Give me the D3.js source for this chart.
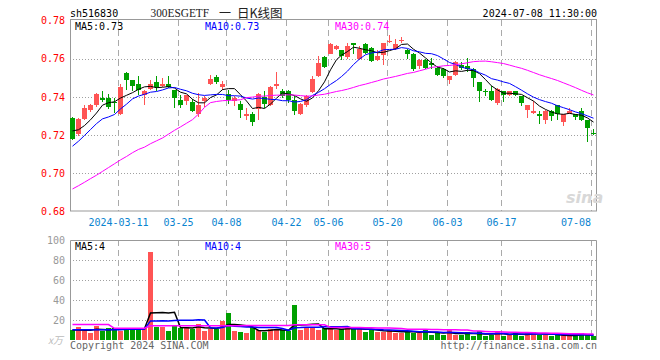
<!DOCTYPE html>
<html><head><meta charset="utf-8">
<script src="https://cdn.jsdelivr.net/npm/d3@7/dist/d3.min.js"></script>
<style>body{margin:0;background:#fff}svg{display:block}</style>
</head><body>
<svg id="c" width="660" height="360"></svg>
<script>
const dates = ["2024-02-28","2024-02-29","2024-03-01","2024-03-04","2024-03-05","2024-03-06","2024-03-07","2024-03-08",
"2024-03-11","2024-03-12","2024-03-13","2024-03-14","2024-03-15","2024-03-18","2024-03-19","2024-03-20","2024-03-21","2024-03-22",
"2024-03-25","2024-03-26","2024-03-27","2024-03-28","2024-03-29","2024-04-01","2024-04-02","2024-04-03",
"2024-04-08","2024-04-09","2024-04-10","2024-04-11","2024-04-12","2024-04-15","2024-04-16","2024-04-17","2024-04-18","2024-04-19",
"2024-04-22","2024-04-23","2024-04-24","2024-04-25","2024-04-26","2024-04-29","2024-04-30",
"2024-05-06","2024-05-07","2024-05-08","2024-05-09","2024-05-10","2024-05-13","2024-05-14","2024-05-15","2024-05-16","2024-05-17",
"2024-05-20","2024-05-21","2024-05-22","2024-05-23","2024-05-24","2024-05-27","2024-05-28","2024-05-29","2024-05-30","2024-05-31",
"2024-06-03","2024-06-04","2024-06-05","2024-06-06","2024-06-07","2024-06-11","2024-06-12","2024-06-13","2024-06-14",
"2024-06-17","2024-06-18","2024-06-19","2024-06-20","2024-06-21","2024-06-24","2024-06-25","2024-06-26","2024-06-27","2024-06-28",
"2024-07-01","2024-07-02","2024-07-03","2024-07-04","2024-07-05","2024-07-08"];

const open  = [0.7287,0.7204,0.7285,0.7334,0.7355,0.7395,0.7395,0.7372,0.7311,0.7526,0.7486,0.7465,0.7412,0.7442,0.7477,0.7456,0.7465,0.7435,0.7386,0.7377,0.7372,0.7313,0.7377,0.7465,0.7505,0.7452,0.7417,0.7381,0.7365,0.7299,0.7313,0.7337,0.7400,0.7355,0.7456,0.7430,0.7430,0.7386,0.7313,0.7355,0.7424,0.7508,0.7609,0.7627,0.7651,0.7644,0.7609,0.7683,0.7599,0.7679,0.7657,0.7595,0.7620,0.7686,0.7651,0.7695,0.7648,0.7627,0.7564,0.7595,0.7575,0.7552,0.7547,0.7487,0.7517,0.7569,0.7564,0.7547,0.7477,0.7430,0.7430,0.7369,0.7433,0.7412,0.7433,0.7407,0.7334,0.7316,0.7313,0.7278,0.7325,0.7355,0.7267,0.7313,0.7313,0.7325,0.7278,0.7212];
const high  = [0.7295,0.7290,0.7360,0.7365,0.7420,0.7433,0.7417,0.7395,0.7465,0.7529,0.7491,0.7508,0.7438,0.7491,0.7508,0.7500,0.7510,0.7435,0.7412,0.7412,0.7390,0.7421,0.7403,0.7517,0.7517,0.7482,0.7438,0.7403,0.7377,0.7342,0.7320,0.7421,0.7430,0.7456,0.7529,0.7442,0.7435,0.7403,0.7369,0.7410,0.7508,0.7616,0.7616,0.7683,0.7674,0.7648,0.7680,0.7683,0.7669,0.7683,0.7662,0.7648,0.7683,0.7726,0.7704,0.7714,0.7651,0.7630,0.7599,0.7599,0.7604,0.7561,0.7552,0.7512,0.7587,0.7582,0.7604,0.7552,0.7477,0.7442,0.7456,0.7447,0.7433,0.7433,0.7433,0.7407,0.7355,0.7377,0.7325,0.7334,0.7334,0.7360,0.7313,0.7342,0.7313,0.7342,0.7278,0.7232];
const low   = [0.7173,0.7197,0.7278,0.7320,0.7348,0.7372,0.7337,0.7316,0.7306,0.7438,0.7430,0.7410,0.7360,0.7438,0.7430,0.7452,0.7447,0.7342,0.7342,0.7360,0.7320,0.7295,0.7348,0.7460,0.7465,0.7438,0.7365,0.7351,0.7290,0.7278,0.7250,0.7281,0.7342,0.7351,0.7442,0.7395,0.7369,0.7306,0.7306,0.7348,0.7421,0.7505,0.7552,0.7622,0.7644,0.7592,0.7599,0.7627,0.7595,0.7622,0.7582,0.7587,0.7569,0.7683,0.7644,0.7683,0.7599,0.7534,0.7547,0.7547,0.7547,0.7512,0.7499,0.7470,0.7508,0.7543,0.7529,0.7452,0.7372,0.7403,0.7377,0.7360,0.7372,0.7403,0.7403,0.7351,0.7290,0.7308,0.7260,0.7260,0.7273,0.7281,0.7250,0.7308,0.7281,0.7273,0.7163,0.7198];
const close = [0.7180,0.7285,0.7342,0.7355,0.7416,0.7386,0.7348,0.7368,0.7452,0.7487,0.7456,0.7435,0.7433,0.7465,0.7452,0.7468,0.7452,0.7395,0.7356,0.7409,0.7325,0.7360,0.7395,0.7494,0.7477,0.7465,0.7386,0.7395,0.7334,0.7313,0.7267,0.7417,0.7365,0.7452,0.7465,0.7407,0.7386,0.7325,0.7365,0.7403,0.7494,0.7575,0.7557,0.7679,0.7669,0.7613,0.7669,0.7671,0.7651,0.7630,0.7587,0.7616,0.7683,0.7695,0.7679,0.7700,0.7627,0.7547,0.7595,0.7552,0.7568,0.7517,0.7508,0.7508,0.7582,0.7552,0.7547,0.7499,0.7430,0.7426,0.7386,0.7442,0.7412,0.7430,0.7412,0.7369,0.7355,0.7325,0.7299,0.7325,0.7299,0.7308,0.7313,0.7325,0.7295,0.7278,0.7238,0.7205];
const volume = [10,12.7,9.3,7.3,14,9.3,11.7,11.7,9.3,11.7,11.7,11.7,11.7,88,
  13.3,12.7,9.3,15,11.7,12.7,11,16,9.3,10.7,11,19.3,27.3,
  9.3,8.3,7.3,12.7,10,8.3,10.7,10.7,10,9.3,35,10,11.7,12.7,10,11.7,11.7,10,10.7,11.7,
  11.7,11.7,8.3,10,8.3,8.3,10,7.3,7.3,9.3,7.3,7.3,10,5,7.3,5,10.7,5,5,8,4,9.3,4,5,9.3,4,5,6.7,4,8,8,5,5,4,5,5,4,5,6.7,5,4];

// moving-average values for days whose window starts before the chart
const ma5Head  = [0.7222,0.7228,0.7250,0.7280];
const ma10Head = [0.7142,0.7168,0.7198,0.7229,0.7260,0.7285,0.7295,0.7308,0.7337];
const ma30Head = [0.6918,0.6935,0.6953,0.6972,0.6990,0.7010,0.7030,0.7050,0.7070,0.7088,0.7108,0.7125,0.7137,0.7155,0.7170,0.7185,0.7205,0.7225,0.7243,0.7262,0.7281,0.7310,0.7345,0.7370,0.7376,0.7380,0.7382,0.7383,0.7385];
const vma5Head  = [10,10,9.7,9.7];
const vma10Head = [10.3,10.3,10.3,10.3,10.3,10.3,10.3,10.3,10.3];
const vma30Head = [15.5,15.5,15.5,15.5,15.5,15.5,15.5,11.7,11.7,11.7,11.7,11.7,11.7,14.3,14.3,14.3,14.3,14.3,14.3,14.3,14.3,14.3,14.3,14.3,14.3,14.3,14.3,14.3,14.3];

const tickDates  = ["2024-03-11","2024-03-25","2024-04-08","2024-04-22","2024-05-06","2024-05-20","2024-06-03","2024-06-17","2024-07-08"];
const tickLabels = ["2024-03-11","03-25","04-08","04-22","05-06","05-20","06-03","06-17","07-08"];
const priceTicks = [0.78,0.76,0.74,0.72,0.70,0.68];
const volTicks   = [100,80,60,40,20];
const priceMaLabels = ["MA5:0.73","MA10:0.73","MA30:0.74"];
const volMaLabels   = ["MA5:4","MA10:4","MA30:5"];
const maColors = ["#000000","#0000ff","#ff00ff"];

function movingAvg(vals, n, head){
  return vals.map((v,i)=> i < n-1 ? head[i] : d3.mean(vals.slice(i-n+1, i+1)));
}

const svg = d3.select("#c");
const L=70, R=597, PT=20, PB=211, VT=240, VB=340;
const MONO = "DejaVu Sans Mono, monospace";
const x = d3.scaleBand().domain(dates).range([L,R]).padding(0);
const y = d3.scaleLinear().domain([0.68,0.78]).range([211.5,20.5]);
const yv = d3.scaleLinear().domain([0,100]).range([340,240]);
const px = d => Math.round(x(d));

// grid
const g = svg.append("g");
g.selectAll(".hg").data(priceTicks.filter(t=>t<0.775 && t>0.685)).join("line")
  .attr("x1",L).attr("x2",R).attr("y1",d=>Math.round(y(d))+0.5).attr("y2",d=>Math.round(y(d))+0.5)
  .attr("stroke","#a0a0a0").attr("stroke-dasharray","1,2");
g.selectAll(".hv").data(volTicks.filter(t=>t<100)).join("line")
  .attr("x1",L).attr("x2",R).attr("y1",d=>yv(d)+0.5).attr("y2",d=>yv(d)+0.5)
  .attr("stroke","#a0a0a0").attr("stroke-dasharray","1,2");
tickDates.forEach(d=>{
  [[PT,PB],[VT,VB]].forEach(([a,b])=>{
    g.append("line").attr("x1",px(d)+0.5).attr("x2",px(d)+0.5).attr("y1",a).attr("y2",b)
     .attr("stroke","#aaaaaa").attr("stroke-dasharray","6,4");
  });
});

// frames
svg.append("rect").attr("x",L+0.5).attr("y",PT-0.5).attr("width",R-L-1).attr("height",PB-PT+0.5)
  .attr("fill","none").attr("stroke","#999");
svg.append("path").attr("d",`M${L+0.5},${VB}V${VT+0.5}H${R-0.5}V${VB}`).attr("fill","none").attr("stroke","#999");

// watermark
svg.append("text").attr("x",566).attr("y",203).attr("font-family","DejaVu Sans").attr("font-size",16)
  .attr("font-style","italic").attr("font-weight","bold").attr("fill","#d8d8d8").text("sina");

// candles
const up = i => close[i] >= open[i];
const RED="#ff5454", GREEN="#00a000";
const cg = svg.append("g");
dates.forEach((d,i)=>{
  const col = up(i)?RED:GREEN;
  cg.append("rect").attr("x",px(d)+2).attr("width",1)
    .attr("y",Math.round(y(high[i]))).attr("height",Math.max(1,Math.round(y(low[i]))-Math.round(y(high[i]))))
    .attr("fill",col);
  const top = Math.round(y(Math.max(open[i],close[i]))), bot = Math.round(y(Math.min(open[i],close[i])));
  cg.append("rect").attr("x",px(d)).attr("width",5).attr("y",top).attr("height",Math.max(1,bot-top)).attr("fill",col);
  cg.append("rect").attr("x",px(d)).attr("width",5).attr("y",Math.round(yv(volume[i])))
    .attr("height",VB-Math.round(yv(volume[i]))).attr("fill",col);
});

// MA lines
const pMA = [movingAvg(close,5,ma5Head), movingAvg(close,10,ma10Head), movingAvg(close,30,ma30Head)];
const vMA = [movingAvg(volume,5,vma5Head), movingAvg(volume,10,vma10Head), movingAvg(volume,30,vma30Head)];
const lineP = d3.line().x((v,i)=>px(dates[i])+2.5).y(v=>y(v));
const lineV = d3.line().x((v,i)=>px(dates[i])+2.5).y(v=>yv(v));
pMA.forEach((arr,k)=> svg.append("path").attr("d",lineP(arr)).attr("fill","none").attr("stroke",maColors[k]).attr("stroke-width",1));
vMA.forEach((arr,k)=> svg.append("path").attr("d",lineV(arr)).attr("fill","none").attr("stroke",maColors[k]).attr("stroke-width",1.5));

// axes labels
const ay = svg.append("g").attr("transform",`translate(${L},0)`)
  .call(d3.axisLeft(y).tickValues(priceTicks).tickSize(0).tickPadding(5).tickFormat(d3.format(".2f")));
ay.select(".domain").remove();
ay.selectAll("text").attr("fill","#ff0000").attr("font-family",MONO).attr("font-size",10);
const av = svg.append("g").attr("transform",`translate(${L},0.5)`)
  .call(d3.axisLeft(yv).tickValues(volTicks).tickSize(0).tickPadding(5));
av.select(".domain").remove();
av.selectAll("text").attr("fill","#999").attr("font-family",MONO).attr("font-size",10);
svg.append("text").attr("x",63).attr("y",344).attr("text-anchor","end").attr("font-family","Noto Sans CJK SC")
  .attr("font-size",10).attr("font-style","italic").attr("fill","#bbb").text("x万");

tickDates.forEach((d,k)=>{
  const last = k===tickDates.length-1;
  svg.append("text").attr("x",px(d)+(last?0:0.5)).attr("y",225.5).attr("text-anchor",last?"end":"middle")
    .attr("font-family",MONO).attr("font-size",10).attr("fill","#0a84d0").text(tickLabels[k]);
});

// legends
const legX=[75,205,335];
priceMaLabels.forEach((t,k)=> svg.append("text").attr("x",legX[k]).attr("y",29.5).attr("font-family",MONO)
  .attr("font-size",10).attr("fill",maColors[k]).text(t));
volMaLabels.forEach((t,k)=> svg.append("text").attr("x",legX[k]).attr("y",250).attr("font-family",MONO)
  .attr("font-size",10).attr("fill",maColors[k]).text(t));

// titles
svg.append("text").attr("x",70).attr("y",16.5).attr("font-family",MONO).attr("font-size",10).attr("fill","#000").text("sh516830");
svg.append("text").attr("x",150.5).attr("y",17.3).attr("font-family","Liberation Serif").attr("font-size",12)
  .attr("textLength",58.6).attr("lengthAdjust","spacingAndGlyphs").attr("fill","#222").text("300ESGETF");
svg.append("text").attr("x",219).attr("y",17.5).attr("font-family","Noto Sans CJK SC").attr("font-size",12).attr("fill","#222").text("一");
svg.append("text").attr("x",237).attr("y",17.5).attr("font-family","Noto Sans CJK SC").attr("font-size",12.5).attr("fill","#222").text("日K线图");
svg.append("text").attr("x",597).attr("y",16.5).attr("text-anchor","end").attr("font-family",MONO).attr("font-size",10).attr("fill","#000").text("2024-07-08 11:30:00");

// footer
svg.append("text").attr("x",70).attr("y",348.5).attr("font-family",MONO).attr("font-size",10).attr("fill","#666").text("Copyright 2024 SINA.COM");
svg.append("text").attr("x",597).attr("y",348.5).attr("text-anchor","end").attr("font-family",MONO).attr("font-size",10).attr("fill","#666").text("http://finance.sina.com.cn");
</script>
</body></html>
